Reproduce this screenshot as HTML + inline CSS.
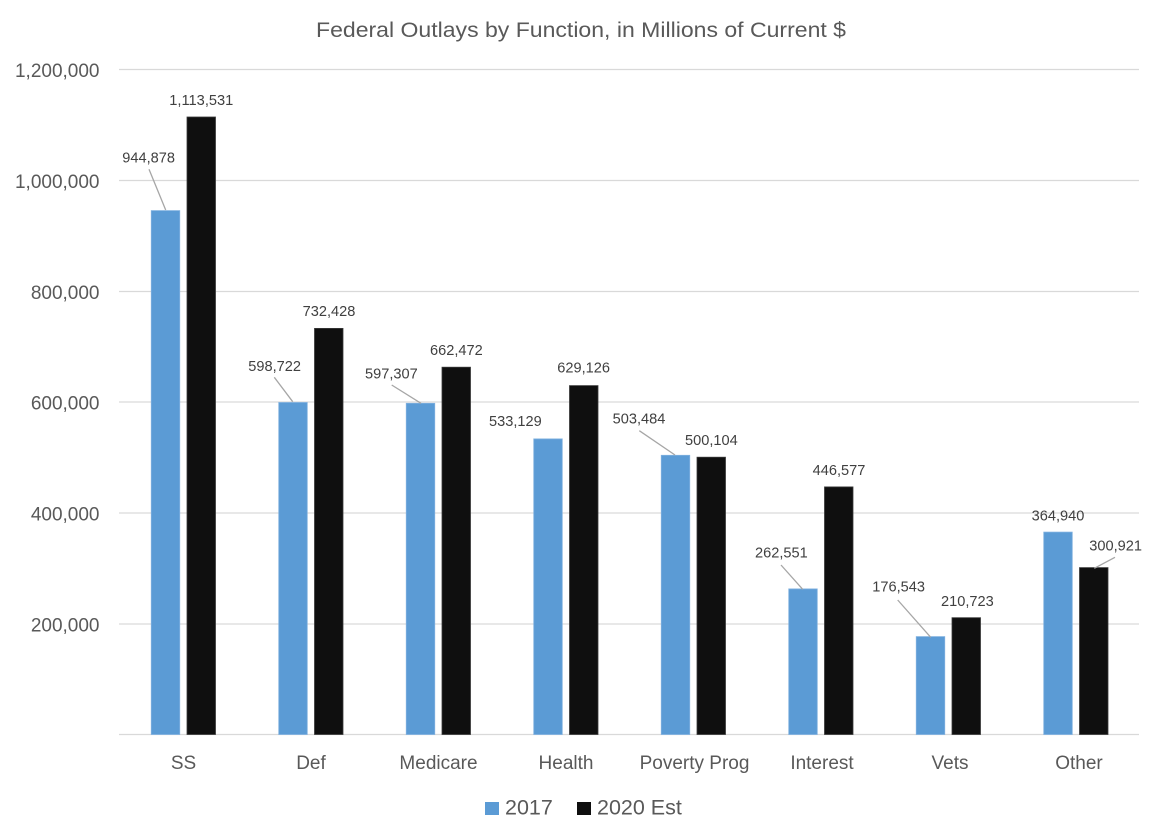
<!DOCTYPE html>
<html>
<head>
<meta charset="utf-8">
<style>
html,body{margin:0;padding:0;background:#fff;}
svg{display:block;}
text{font-family:"Liberation Sans",Arial,sans-serif;}
</style>
</head>
<body>
<svg width="1160" height="839" viewBox="0 0 1160 839" xmlns="http://www.w3.org/2000/svg">
<rect width="1160" height="839" fill="#fff"/>
<!-- title -->
<text x="316" y="37" font-size="21.5" fill="#595959" textLength="530" lengthAdjust="spacingAndGlyphs">Federal Outlays by Function, in Millions of Current $</text>

<!-- gridlines -->
<g stroke="#d9d9d9" stroke-width="1.3">
<line x1="119" y1="69.5" x2="1139" y2="69.5"/>
<line x1="119" y1="180.5" x2="1139" y2="180.5"/>
<line x1="119" y1="291.5" x2="1139" y2="291.5"/>
<line x1="119" y1="402" x2="1139" y2="402"/>
<line x1="119" y1="513" x2="1139" y2="513"/>
<line x1="119" y1="624" x2="1139" y2="624"/>
<line x1="119" y1="734.5" x2="1139" y2="734.5"/>
</g>

<!-- y tick labels -->
<g font-size="19" fill="#595959" text-anchor="end">
<text x="99.5" y="77">1,200,000</text>
<text x="99.5" y="188">1,000,000</text>
<text x="99.5" y="299">800,000</text>
<text x="99.5" y="409.5">600,000</text>
<text x="99.5" y="520.5">400,000</text>
<text x="99.5" y="631.5">200,000</text>
</g>

<!-- bars 2017 -->
<g fill="#5B9BD5" stroke="#7fb0df" stroke-width="0.8">
<rect x="151.25" y="210.6" width="28.5" height="523.9"/>
<rect x="278.75" y="402.5" width="28.5" height="332"/>
<rect x="406.25" y="403.3" width="28.5" height="331.2"/>
<rect x="533.75" y="438.9" width="28.5" height="295.6"/>
<rect x="661.25" y="455.3" width="28.5" height="279.2"/>
<rect x="788.75" y="588.9" width="28.5" height="145.6"/>
<rect x="916.25" y="636.6" width="28.5" height="97.9"/>
<rect x="1043.75" y="532.1" width="28.5" height="202.4"/>
</g>
<!-- bars 2020 -->
<g fill="#0f0f0f" stroke="#3a3a3a" stroke-width="0.8">
<rect x="187" y="117" width="28.5" height="617.5"/>
<rect x="314.5" y="328.4" width="28.5" height="406.1"/>
<rect x="442" y="367.2" width="28.5" height="367.3"/>
<rect x="569.5" y="385.6" width="28.5" height="348.9"/>
<rect x="697" y="457.2" width="28.5" height="277.3"/>
<rect x="824.5" y="486.9" width="28.5" height="247.6"/>
<rect x="952" y="617.7" width="28.5" height="116.8"/>
<rect x="1079.5" y="567.6" width="28.5" height="166.9"/>
</g>

<!-- leader lines -->
<g stroke="#a6a6a6" stroke-width="1.3">
<line x1="149" y1="169.3" x2="165.7" y2="210"/>
<line x1="274.3" y1="377.3" x2="292.7" y2="401.7"/>
<line x1="391.7" y1="385" x2="421" y2="403.3"/>
<line x1="639.3" y1="430.7" x2="675" y2="455"/>
<line x1="781" y1="565" x2="802.7" y2="589.3"/>
<line x1="897.7" y1="600" x2="930.7" y2="637.3"/>
<line x1="1115" y1="557.3" x2="1094.3" y2="568.3"/>
</g>

<!-- data labels -->
<g font-size="14.5" fill="#404040">
<text x="122.3" y="162.7" textLength="52.7" lengthAdjust="spacingAndGlyphs">944,878</text>
<text x="169.3" y="105" textLength="64" lengthAdjust="spacingAndGlyphs">1,113,531</text>
<text x="248.3" y="371" textLength="52.7" lengthAdjust="spacingAndGlyphs">598,722</text>
<text x="302.7" y="316" textLength="52.7" lengthAdjust="spacingAndGlyphs">732,428</text>
<text x="365" y="378.3" textLength="52.7" lengthAdjust="spacingAndGlyphs">597,307</text>
<text x="430" y="355" textLength="52.7" lengthAdjust="spacingAndGlyphs">662,472</text>
<text x="489" y="426" textLength="52.7" lengthAdjust="spacingAndGlyphs">533,129</text>
<text x="557.3" y="372.7" textLength="52.7" lengthAdjust="spacingAndGlyphs">629,126</text>
<text x="612.7" y="423.3" textLength="52.7" lengthAdjust="spacingAndGlyphs">503,484</text>
<text x="685" y="445" textLength="52.7" lengthAdjust="spacingAndGlyphs">500,104</text>
<text x="755" y="557.3" textLength="52.7" lengthAdjust="spacingAndGlyphs">262,551</text>
<text x="812.7" y="475" textLength="52.7" lengthAdjust="spacingAndGlyphs">446,577</text>
<text x="872.3" y="591.7" textLength="52.7" lengthAdjust="spacingAndGlyphs">176,543</text>
<text x="941" y="606" textLength="52.7" lengthAdjust="spacingAndGlyphs">210,723</text>
<text x="1031.7" y="520.7" textLength="52.7" lengthAdjust="spacingAndGlyphs">364,940</text>
<text x="1089.3" y="550.7" textLength="52.7" lengthAdjust="spacingAndGlyphs">300,921</text>
</g>

<!-- category labels -->
<g font-size="19" fill="#595959" text-anchor="middle">
<text x="183.5" y="769">SS</text>
<text x="311" y="769">Def</text>
<text x="438.5" y="769">Medicare</text>
<text x="566" y="769">Health</text>
<text x="694.5" y="769">Poverty Prog</text>
<text x="822" y="769">Interest</text>
<text x="950" y="769">Vets</text>
<text x="1079" y="769">Other</text>
</g>

<!-- legend -->
<rect x="485" y="802" width="14" height="13" fill="#5B9BD5"/>
<text x="505" y="814.5" font-size="21.5" fill="#595959">2017</text>
<rect x="577" y="802" width="14" height="13" fill="#0f0f0f"/>
<text x="597" y="814.5" font-size="21.5" fill="#595959">2020 Est</text>
</svg>
</body>
</html>
